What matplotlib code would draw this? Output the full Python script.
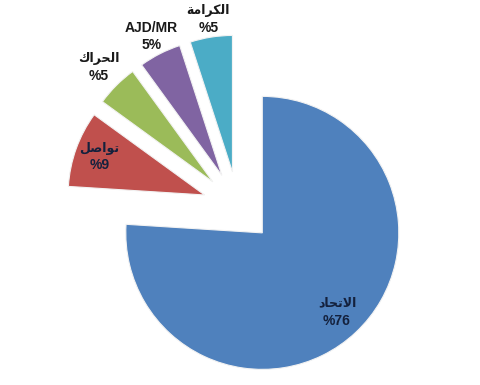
import numpy as np
import matplotlib.pyplot as plt

names = ['الاتحاد', 'تواصل', 'الحراك', 'AJD/MR', 'الكرامة']
values = [76, 9, 5, 5, 5]
colors = ['#4F81BD', '#C0504D', '#9BBB59', '#8064A2', '#4BACC6']
label_r = [0.80, 0.82, 1.18, 1.14, 1.13]

# minimal arabic shaping (matplotlib has no shaping / bidi)
FORMS = {
    'ا': (0xFE8D, 0xFE8E, None, None), 'د': (0xFEA9, 0xFEAA, None, None),
    'ر': (0xFEAD, 0xFEAE, None, None), 'و': (0xFEED, 0xFEEE, None, None),
    'ة': (0xFE93, 0xFE94, None, None),
    'ت': (0xFE95, 0xFE96, 0xFE97, 0xFE98), 'ح': (0xFEA1, 0xFEA2, 0xFEA3, 0xFEA4),
    'ص': (0xFEB9, 0xFEBA, 0xFEBB, 0xFEBC), 'ك': (0xFED9, 0xFEDA, 0xFEDB, 0xFEDC),
    'ل': (0xFEDD, 0xFEDE, 0xFEDF, 0xFEE0), 'م': (0xFEE1, 0xFEE2, 0xFEE3, 0xFEE4),
}

def dual(c):
    return c in FORMS and FORMS[c][2] is not None

def shape(s):
    if not any(c in FORMS for c in s):
        return s
    out = []
    i = 0
    while i < len(s):
        c = s[i]
        prev = s[i-1] if i > 0 else ''
        jp = dual(prev)
        if c == 'ل' and i + 1 < len(s) and s[i+1] == 'ا':
            out.append(chr(0xFEFC if jp else 0xFEFB))
            i += 2
            continue
        nxt = s[i+1] if i + 1 < len(s) else ''
        jn = dual(c) and nxt in FORMS
        f = FORMS[c]
        if jp and jn:
            out.append(chr(f[3]))
        elif jp:
            out.append(chr(f[1]))
        elif jn:
            out.append(chr(f[2]))
        else:
            out.append(chr(f[0]))
        i += 1
    return ''.join(out[::-1])

fig = plt.figure(figsize=(4.8, 3.85), dpi=100)
ax = fig.add_axes([0, 0, 1, 1])

expl = 0.26
wedges, _ = ax.pie(values, explode=[expl] * len(values), startangle=90,
                   counterclock=False, colors=colors,
                   wedgeprops=dict(linewidth=0.8, edgecolor='#f2f2f2'))

fam = ['Liberation Sans', 'DejaVu Sans']
for w, name, v, r in zip(wedges, names, values, label_r):
    th = np.deg2rad((w.theta1 + w.theta2) / 2)
    cx, cy = w.center
    pos = (cx + r * np.cos(th), cy + r * np.sin(th))
    arabic = name != shape(name)
    pct = f'%{v}' if arabic else f'{v}%'
    col = '#14213d' if r < 1 else '#1a1a1a'
    ax.annotate(shape(name), pos, xytext=(0, 6.5), textcoords='offset points',
                ha='center', va='center', fontsize=9 if arabic else 10,
                fontweight='bold', family=fam, color=col)
    ax.annotate(pct, pos, xytext=(0, -6), textcoords='offset points',
                ha='center', va='center', fontsize=10,
                fontweight='bold', family=fam, color=col)

rad = 136.5
ax.set_xlim(-238 / rad, (480 - 238) / rad)
ax.set_ylim(-178 / rad, (385 - 178) / rad)
ax.set_aspect('equal')
ax.axis('off')
fig.savefig('out.png', dpi=100)
